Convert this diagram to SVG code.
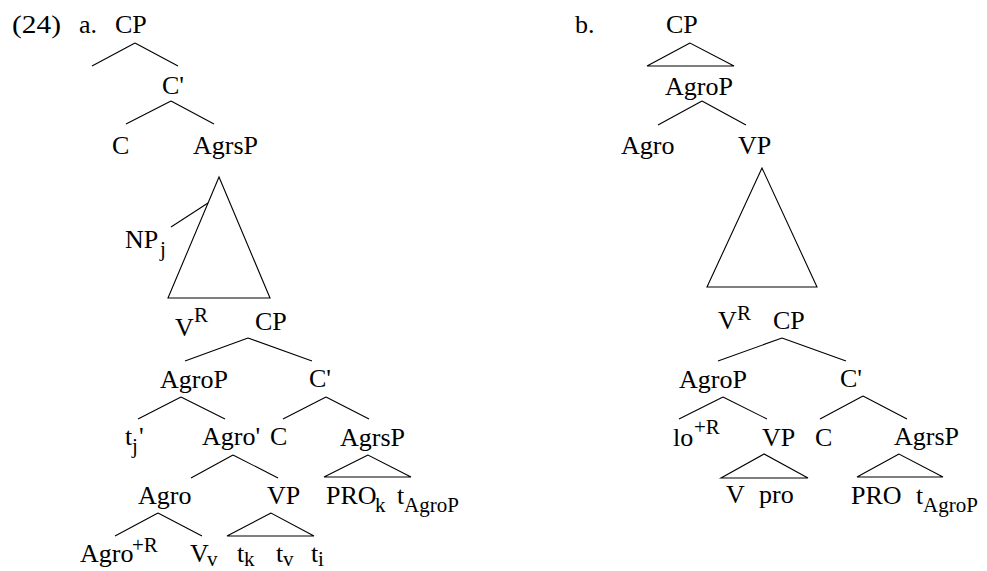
<svg xmlns="http://www.w3.org/2000/svg" width="987" height="571" viewBox="0 0 987 571">
<style>
text{font-family:"Liberation Serif","Times New Roman",serif;font-size:26px;fill:#000}
.s{font-size:21px}
.e{stroke:#000;stroke-width:1.1;fill:none}
.t{stroke:#000;stroke-width:1.1;fill:none;stroke-linejoin:miter}
</style>
<rect width="987" height="571" fill="#fff"/>
<g id="connectors">
<path class="e" d="M135,43L92,66M135,43L178,66"/>
<path class="e" d="M171,101L126,124M171,101L214,124"/>
<polygon class="t" points="219,177 168,298 270,298"/>
<path class="e" d="M171,227L208,203"/>
<path class="e" d="M248,338L185,361M248,338L312,361"/>
<path class="e" d="M181,397L138,419M181,397L225,419"/>
<path class="e" d="M326,397L283,419M326,397L369,419"/>
<path class="e" d="M233,455L191,478M233,455L278,478"/>
<polygon class="t" points="368,455 324,477 411,477"/>
<path class="e" d="M158,513L115,536M158,513L202,536"/>
<polygon class="t" points="271,513 227,536 314,536"/>
<polygon class="t" points="690,43 647,66 734,66"/>
<path class="e" d="M702,101L658,125M702,101L746,125"/>
<polygon class="t" points="762,168 707,287 817,287"/>
<path class="e" d="M782,338L718,361M782,338L846,361"/>
<path class="e" d="M723,397L679,419M723,397L767,419"/>
<path class="e" d="M863,396L820,419M863,396L907,419"/>
<polygon class="t" points="764,454 721,478 808,478"/>
<polygon class="t" points="899,454 857,477 943,477"/>
</g>
<g id="label-24"><text x="12" y="33" textLength="49" lengthAdjust="spacingAndGlyphs">(24)</text></g>
<g id="label-a"><text x="79" y="33">a.</text></g>
<g id="a-CP"><text x="115" y="33">CP</text></g>
<g id="a-C1"><text x="162" y="94">C'</text></g>
<g id="a-C"><text x="112" y="154">C</text></g>
<g id="a-AgrsP"><text x="193" y="154">AgrsP</text></g>
<g id="a-NPj"><text x="125" y="248">NP</text><text class="s" x="160" y="256">j</text></g>
<g id="a-VR"><text x="175" y="336">V</text><text class="s" x="194" y="322">R</text></g>
<g id="a-CP2"><text x="255" y="330">CP</text></g>
<g id="a-AgroP"><text x="160" y="388">AgroP</text></g>
<g id="a-C2"><text x="309" y="387">C'</text></g>
<g id="a-tj"><text x="125" y="445">t</text><text class="s" x="132" y="453">j</text><text x="139" y="445">'</text></g>
<g id="a-Agro1"><text x="202" y="445">Agro'</text></g>
<g id="a-C3"><text x="270" y="445">C</text></g>
<g id="a-AgrsP2"><text x="340" y="446">AgrsP</text></g>
<g id="a-Agro"><text x="138" y="504">Agro</text></g>
<g id="a-VP"><text x="267" y="504">VP</text></g>
<g id="a-PROk"><text x="326" y="504">PRO</text><text class="s" x="375" y="512">k</text></g>
<g id="a-tAgroP"><text x="397" y="504">t</text><text class="s" x="404" y="512">AgroP</text></g>
<g id="a-AgroR"><text x="80" y="562">Agro</text><text class="s" x="132" y="552">+R</text></g>
<g id="a-Vv"><text x="190" y="562">V</text><text class="s" x="207" y="566">v</text></g>
<g id="a-tk"><text x="237" y="562">t</text><text class="s" x="244" y="566">k</text></g>
<g id="a-tv"><text x="276" y="562">t</text><text class="s" x="283" y="566">v</text></g>
<g id="a-ti"><text x="311" y="562">t</text><text class="s" x="318" y="566">i</text></g>
<g id="label-b"><text x="575" y="33">b.</text></g>
<g id="b-CP"><text x="666" y="33">CP</text></g>
<g id="b-AgroP"><text x="665" y="95">AgroP</text></g>
<g id="b-Agro"><text x="621" y="154">Agro</text></g>
<g id="b-VP"><text x="738" y="154">VP</text></g>
<g id="b-VR"><text x="718" y="329">V</text><text class="s" x="737" y="320">R</text></g>
<g id="b-CP2"><text x="773" y="329">CP</text></g>
<g id="b-AgroP2"><text x="679" y="388">AgroP</text></g>
<g id="b-C1"><text x="840" y="387">C'</text></g>
<g id="b-lo"><text x="673" y="446">lo</text><text class="s" x="694" y="434">+R</text></g>
<g id="b-VP2"><text x="762" y="446">VP</text></g>
<g id="b-C"><text x="815" y="446">C</text></g>
<g id="b-AgrsP"><text x="894" y="445">AgrsP</text></g>
<g id="b-V"><text x="726" y="503">V</text></g>
<g id="b-pro"><text x="759" y="503">pro</text></g>
<g id="b-PRO"><text x="851" y="504">PRO</text></g>
<g id="b-tAgroP"><text x="916" y="504">t</text><text class="s" x="923" y="512">AgroP</text></g>
</svg>
